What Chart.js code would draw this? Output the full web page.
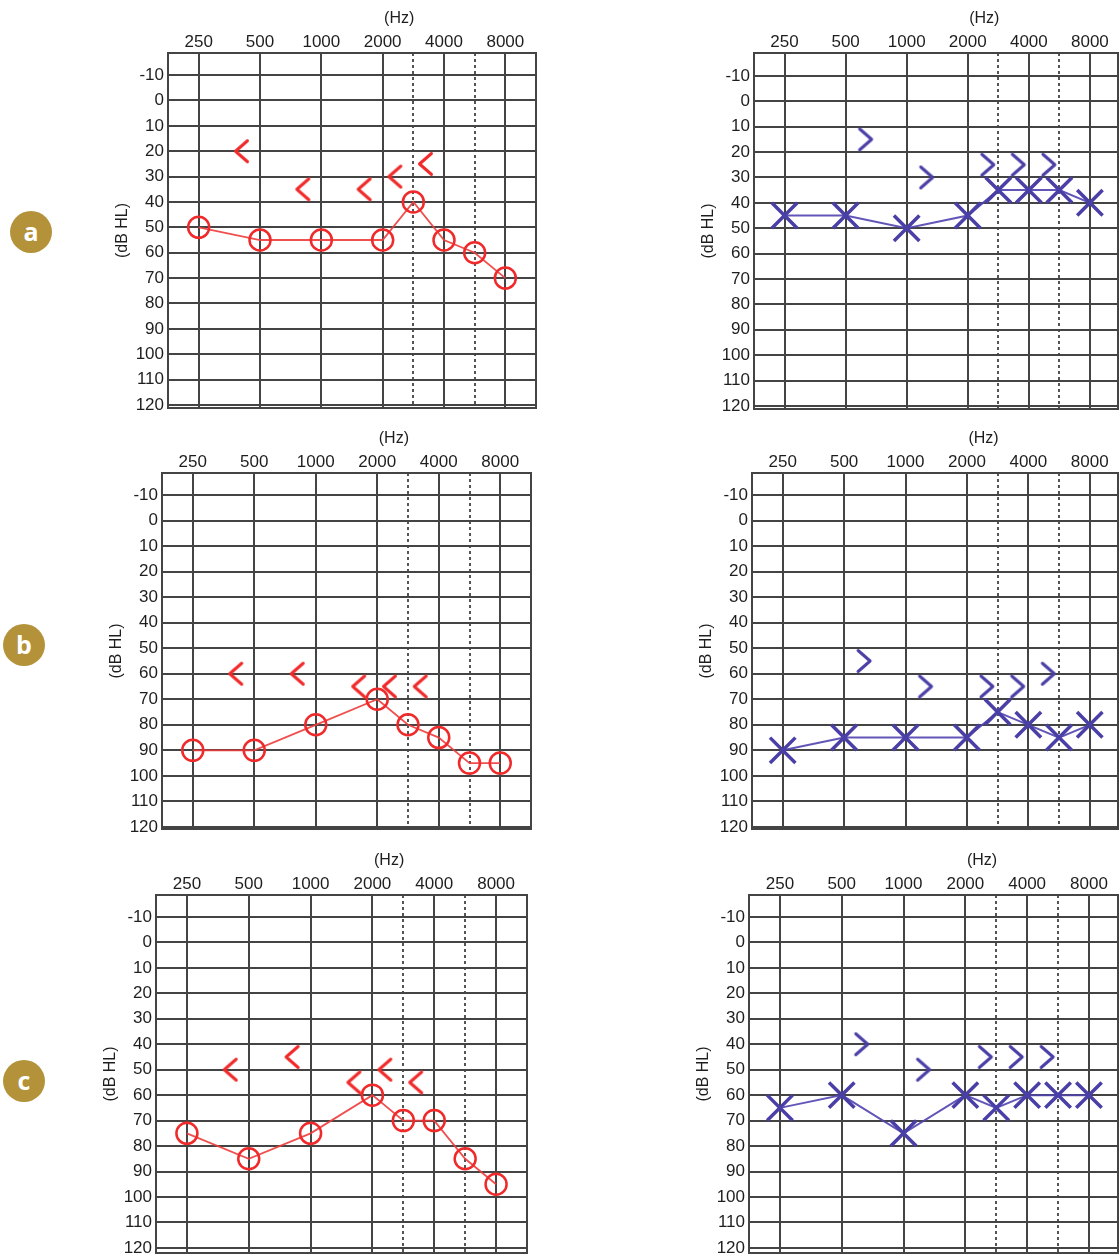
<!DOCTYPE html>
<html>
<head>
<meta charset="utf-8">
<script src="https://cdn.jsdelivr.net/npm/chart.js@4.4.1/dist/chart.umd.min.js"></script>
<style>
  html, body { margin:0; padding:0; background:#fff; width:1119px; height:1260px; overflow:hidden; position:relative; }
  canvas.panel { position:absolute; }
  .badge { position:absolute; width:42px; height:42px; border-radius:50%; background:#b3923a; color:#fff;
           font:bold 25px "Open Sans", "DejaVu Sans", sans-serif; text-align:center; line-height:40px; }
</style>
</head>
<body>
<div class="badge" style="left:10px; top:211px;">a</div>
<div class="badge" style="left:3px; top:624px;">b</div>
<div class="badge" style="left:3px; top:1060px;">c</div>

<script>
// ---------------- DATA ----------------
const airFreqs  = [250, 500, 1000, 2000, 3000, 4000, 6000, 8000];
const boneFreqs = [500, 1000, 2000, 3000, 4000];
const xTickFreqs = [250, 500, 1000, 2000, 4000, 8000];
const yTicks = [-10, 0, 10, 20, 30, 40, 50, 60, 70, 80, 90, 100, 110, 120];
const panelLetters = ['a', 'b', 'c'];

// right ear (red O air, "<" bone) and left ear (blue X air, ">" bone), dB HL
const airRightA  = [50, 55, 55, 55, 40, 55, 60, 70];
const boneRightA = [20, 35, 35, 30, 25];
const airLeftA   = [45, 45, 50, 45, 35, 35, 35, 40];
const boneLeftA  = [15, 30, 25, 25, 25];

const airRightB  = [90, 90, 80, 70, 80, 85, 95, 95];
const boneRightB = [60, 60, 65, 65, 65];
const airLeftB   = [90, 85, 85, 85, 75, 80, 85, 80];
const boneLeftB  = [55, 65, 65, 65, 60];

const airRightC  = [75, 85, 75, 60, 70, 70, 85, 95];
const boneRightC = [50, 45, 55, 50, 55];
const airLeftC   = [65, 60, 75, 60, 65, 60, 60, 60];
const boneLeftC  = [40, 50, 45, 45, 45];

// ---------------- STYLE / LAYOUT ----------------
const FONT = '"Liberation Sans", Arial, sans-serif';
const GRID = '#444444';
const TEXT = '#1e1e1e';
const RED = '#f02a2a';
const RED_LINE = 'rgba(238,60,60,0.9)';
const BLUE = '#4a3fa6';
const BLUE_LINE = 'rgba(80,68,176,0.9)';
const YW = 75;   // space left of plot box
const XH = 55;   // space above plot box
const BP = 14;   // space below plot box (room for the "120" label)

// audiogram frequency placement: octaves, with 3000/6000 at half-octave
const octaveIndex = f => { const o = Math.log2(f / 250); return Number.isInteger(o) ? o : Math.floor(o) + 0.5; };

const panels = [
  { box:[168, 53, 536, 408],  x:[-0.5, 5.5],  y:[-18.7, 121.2], ear:'R', air:airRightA, bone:boneRightA },
  { box:[754, 53, 1118, 409], x:[-0.5, 5.46], y:[-19.0, 121.2], ear:'L', air:airLeftA,  bone:boneLeftA },
  { box:[162, 473, 531, 829], x:[-0.5, 5.5],  y:[-18.6, 120.8], ear:'R', air:airRightB, bone:boneRightB },
  { box:[752, 473, 1118, 829],x:[-0.5, 5.46], y:[-18.6, 120.8], ear:'L', air:airLeftB,  bone:boneLeftB },
  { box:[156, 895, 527, 1253],x:[-0.5, 5.5],  y:[-18.6, 122.0], ear:'R', air:airRightC, bone:boneRightC },
  { box:[749, 895, 1118, 1253],x:[-0.5, 5.47],y:[-18.6, 122.0], ear:'L', air:airLeftC,  bone:boneLeftC },
];

function chevron(dir, color) {
  const c = document.createElement('canvas');
  c.width = 64; c.height = 30;
  const g = c.getContext('2d');
  g.strokeStyle = color; g.lineWidth = 3; g.lineCap = 'round'; g.lineJoin = 'round';
  const cx = 32 + (dir === '<' ? -18.5 : 20), cy = 15, hw = 6, hh = 10.5;
  g.beginPath();
  if (dir === '<') { g.moveTo(cx + hw, cy - hh); g.lineTo(cx - hw, cy); g.lineTo(cx + hw, cy + hh); }
  else { g.moveTo(cx - hw, cy - hh); g.lineTo(cx + hw, cy); g.lineTo(cx - hw, cy + hh); }
  g.stroke();
  return c;
}
const chevLeft = chevron('<', RED);
const chevRight = chevron('>', BLUE);

const framePlugin = {
  id: 'frame',
  beforeDatasetsDraw(chart) {
    const { ctx, chartArea: a } = chart;
    ctx.save();
    ctx.strokeStyle = GRID; ctx.lineWidth = 2;
    ctx.strokeRect(a.left, a.top, a.right - a.left, a.bottom - a.top);
    ctx.restore();
  },
  afterDraw(chart) {
    const { ctx, chartArea: a } = chart;
    ctx.save();
    ctx.font = '16px ' + FONT;
    ctx.fillStyle = TEXT; ctx.textAlign = 'center'; ctx.textBaseline = 'middle';
    ctx.fillText('(Hz)', chart.scales.x.getPixelForValue(3.27), a.top - 34);
    ctx.restore();
  }
};

panels.forEach((p) => {
  const [l, t, r, b] = p.box;
  const cv = document.createElement('canvas');
  cv.className = 'panel';
  const w = r - l + YW + 2, h = b - t + XH + BP;
  cv.width = w; cv.height = h;
  cv.style.left = (l - YW) + 'px'; cv.style.top = (t - XH) + 'px';
  cv.style.width = w + 'px'; cv.style.height = h + 'px';
  document.body.appendChild(cv);

  const isR = p.ear === 'R';
  const airData = airFreqs.map((f, i) => ({ x: octaveIndex(f), y: p.air[i] }));
  const boneData = boneFreqs.map((f, i) => ({ x: octaveIndex(f), y: p.bone[i] }));

  new Chart(cv, {
    type: 'line',
    data: {
      datasets: [
        {
          label: isR ? 'Right ear air' : 'Left ear air',
          data: airData,
          borderColor: isR ? RED_LINE : BLUE_LINE,
          borderWidth: isR ? 1.8 : 2,
          tension: 0,
          pointStyle: isR ? 'circle' : 'crossRot',
          pointRadius: isR ? 10.5 : 18,
          pointBorderWidth: isR ? 2.5 : 3.5,
          pointBorderColor: isR ? RED : BLUE,
          pointBackgroundColor: 'rgba(0,0,0,0)',
          clip: false
        },
        {
          label: isR ? 'Right ear bone' : 'Left ear bone',
          data: boneData,
          showLine: false,
          pointStyle: isR ? chevLeft : chevRight,
          pointRadius: 5,
          clip: false
        }
      ]
    },
    options: {
      responsive: false,
      animation: false,
      devicePixelRatio: 1,
      layout: { autoPadding: false, padding: { left: 0, top: 0, right: 2, bottom: BP } },
      plugins: { legend: { display: false }, tooltip: { enabled: false } },
      scales: {
        x: {
          type: 'linear', position: 'top',
          min: p.x[0], max: p.x[1],
          afterBuildTicks: (s) => { s.ticks = xTickFreqs.map(f => ({ value: octaveIndex(f) })); },
          afterFit: (s) => { s.height = XH; s.paddingLeft = 0; s.paddingRight = 0; s.paddingTop = 0; s.paddingBottom = 0; },
          ticks: {
            autoSkip: false, maxRotation: 0, minRotation: 0, padding: 0,
            color: TEXT, font: { family: FONT, size: 17 },
            callback: (v, i) => String(xTickFreqs[i])
          },
          grid: { color: GRID, lineWidth: 2, drawTicks: false },
          border: { display: false }
        },
        x2: {
          type: 'linear', position: 'top', axis: 'x',
          min: p.x[0], max: p.x[1],
          afterBuildTicks: (s) => { s.ticks = [3000, 6000].map(f => ({ value: octaveIndex(f) })); },
          afterFit: (s) => { s.height = 0; s.paddingLeft = 0; s.paddingRight = 0; s.paddingTop = 0; s.paddingBottom = 0; },
          ticks: { display: false },
          grid: { color: '#555', lineWidth: 2, drawTicks: false },
          border: { display: false, dash: [3, 3] }
        },
        y: {
          type: 'linear', position: 'left', reverse: true,
          min: p.y[0], max: p.y[1],
          afterBuildTicks: (s) => { s.ticks = yTicks.map(v => ({ value: v })); },
          afterFit: (s) => { s.width = YW; s.paddingTop = 0; s.paddingBottom = 0; s.paddingLeft = 0; s.paddingRight = 0; },
          ticks: {
            padding: 4, color: TEXT, font: { family: FONT, size: 17 },
            callback: (v) => String(v)
          },
          grid: { color: GRID, lineWidth: 2, drawTicks: false },
          border: { display: false },
          title: {
            display: true, text: '(dB HL)', color: TEXT,
            font: { family: FONT, size: 16 },
            padding: { top: 20, bottom: 0 }
          }
        }
      }
    },
    plugins: [framePlugin]
  });
});
</script>
</body>
</html>
